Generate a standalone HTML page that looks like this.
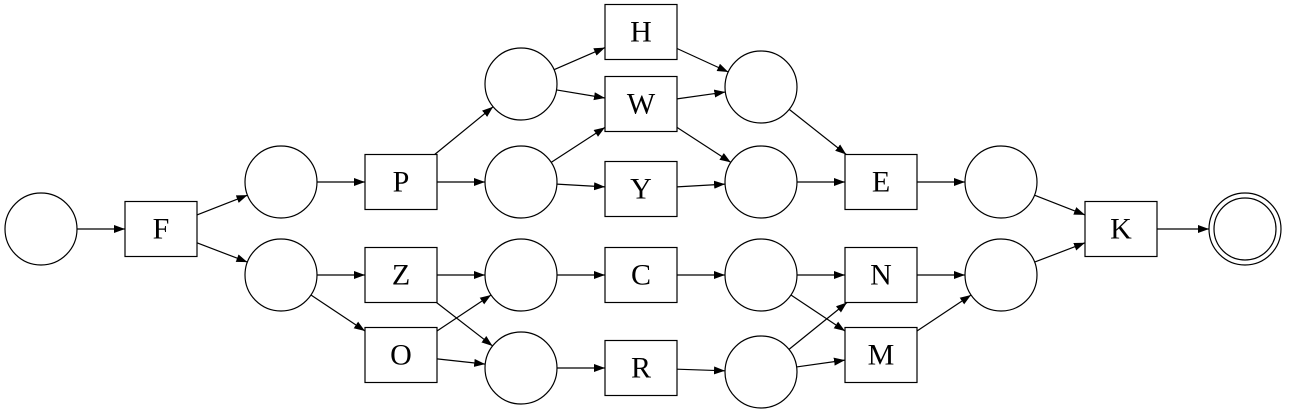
<!DOCTYPE html>
<html><head><meta charset="utf-8"><style>
html,body{margin:0;padding:0;background:#fff;}
svg{display:block;}
text{font-family:"Liberation Serif",serif;font-size:30px;text-anchor:middle;dominant-baseline:central;}
</style></head><body>
<svg id="s" width="1293" height="414" viewBox="0 0 1293 414" xmlns="http://www.w3.org/2000/svg">
<defs><marker id="a" markerWidth="12" markerHeight="10" refX="11" refY="4" orient="auto" markerUnits="userSpaceOnUse"><path d="M0,0 L11,4 L0,8 z" fill="#000"/></marker></defs>
<g id="n" fill="#fff" stroke="#000" stroke-width="1.2"></g>
<g id="e" stroke="#000" stroke-width="1.2" fill="none"></g>
<g id="t">
<text x="161" y="229">F</text><text x="401" y="182">P</text><text x="401" y="275">Z</text><text x="401" y="355">O</text>
<text x="641" y="32">H</text><text x="641" y="104">W</text><text x="641" y="189">Y</text><text x="641" y="275">C</text><text x="641" y="368">R</text>
<text x="881" y="182">E</text><text x="881" y="275">N</text><text x="881" y="355">M</text><text x="1121" y="229">K</text>
</g>
</svg>
<script>
var N={p0:[41,229,'c'],F:[161,229,'r'],pu:[281,182,'c'],pd:[281,275,'c'],P:[401,182,'r'],Z:[401,275,'r'],O:[401,355,'r'],
a3:[521,84,'c'],b3:[521,182,'c'],c3:[521,275,'c'],d3:[521,368,'c'],H:[641,32,'r'],W:[641,104,'r'],Y:[641,189,'r'],C:[641,275,'r'],R:[641,368,'r'],
a5:[761,87,'c'],b5:[761,182,'c'],c5:[761,275,'c'],d5:[761,372,'c'],E:[881,182,'r'],Nn:[881,275,'r'],M:[881,355,'r'],a7:[1001,182,'c'],b7:[1001,275,'c'],K:[1121,229,'r'],fin:[1245,229,'f']};
var E=[['p0','F'],['F','pu'],['F','pd'],['pu','P'],['pd','Z'],['pd','O'],['P','a3'],['P','b3'],['Z','c3'],['Z','d3'],['O','c3'],['O','d3'],['a3','H'],['a3','W'],['b3','W'],['b3','Y'],['c3','C'],['d3','R'],['H','a5'],['W','a5'],['W','b5'],['Y','b5'],['C','c5'],['R','d5'],['a5','E'],['b5','E'],['c5','Nn'],['c5','M'],['d5','Nn'],['d5','M'],['E','a7'],['Nn','b7'],['M','b7'],['a7','K'],['b7','K'],['K','fin']];
var ns='http://www.w3.org/2000/svg',gn=document.getElementById('n'),ge=document.getElementById('e');
function el(p,t,a){var e=document.createElementNS(ns,t);for(var k in a)e.setAttribute(k,a[k]);p.appendChild(e);}
for(var k in N){var n=N[k];if(n[2]=='r')el(gn,'rect',{x:n[0]-36,y:n[1]-27.5,width:72,height:55});
else{el(gn,'circle',{cx:n[0],cy:n[1],r:36});if(n[2]=='f')el(gn,'circle',{cx:n[0],cy:n[1],r:31});}}
function clip(n,dx,dy){var L=Math.hypot(dx,dy),ux=dx/L,uy=dy/L;if(n[2]!='r')return[n[0]+ux*36,n[1]+uy*36];
var t=Math.min(ux?36/Math.abs(ux):1e9,uy?27.5/Math.abs(uy):1e9);return[n[0]+ux*t,n[1]+uy*t];}
E.forEach(function(e){var a=N[e[0]],b=N[e[1]],dx=b[0]-a[0],dy=b[1]-a[1];var p=clip(a,dx,dy),q=clip(b,-dx,-dy);
el(ge,'line',{x1:p[0],y1:p[1],x2:q[0],y2:q[1],'marker-end':'url(#a)'});});
</script>
</body></html>
